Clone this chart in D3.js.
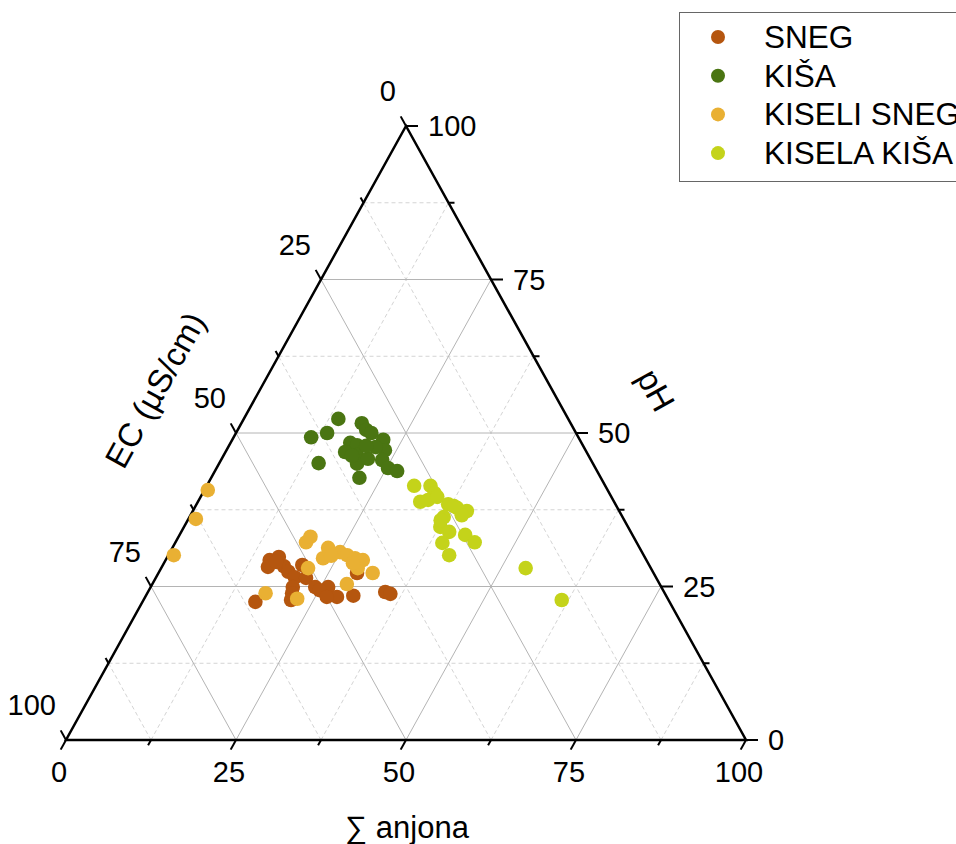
<!DOCTYPE html>
<html>
<head>
<meta charset="utf-8">
<script src="https://cdn.jsdelivr.net/npm/d3@7/dist/d3.min.js"></script>
<style>
  html, body { margin: 0; padding: 0; background: #fff; }
  svg { display: block; font-family: "Liberation Sans", Arial, sans-serif; }
</style>
</head>
<body>
<svg id="chart" width="956" height="844"></svg>
<script>
// Ternary composition of each sample: [Σ anjona, pH, EC (µS/cm)], each row sums to 100
const sneg = [
  [15.3, 29.3, 55.4], [16.4, 29.8, 53.8], [15.6, 28.2, 56.2], [17.9, 28.3, 53.8],
  [19.0, 27.4, 53.6], [20.4, 26.5, 53.1], [22.1, 26.4, 51.5], [20.9, 24.9, 54.2],
  [24.2, 24.9, 50.9], [26.1, 24.9, 49.0], [25.1, 24.4, 50.5], [21.3, 23.9, 54.8],
  [28.2, 23.3, 48.5], [26.7, 23.3, 50.0], [16.6, 22.5, 60.9], [21.7, 22.8, 55.5],
  [30.5, 23.5, 46.0], [29.2, 27.2, 43.6], [34.9, 24.1, 41.0], [35.8, 23.8, 40.4],
  [20.5, 28.5, 51.0], [16.4, 29.0, 54.6]
];
const kisa = [
  [13.9, 52.3, 33.8], [11.4, 49.3, 39.3], [13.4, 50.0, 36.6], [14.6, 45.1, 40.3],
  [17.7, 51.6, 30.7], [18.9, 50.5, 30.6], [19.9, 50.0, 30.1], [17.6, 48.4, 34.0],
  [18.8, 48.0, 33.2], [17.6, 46.9, 35.5], [19.6, 46.4, 34.0], [20.3, 45.0, 34.7],
  [21.5, 45.8, 32.7], [22.2, 48.9, 28.9], [23.3, 47.2, 29.5], [21.7, 47.7, 30.6],
  [23.7, 45.6, 30.7], [25.2, 44.3, 30.5], [26.8, 43.8, 29.4], [21.8, 42.7, 35.5],
  [20.2, 47.9, 31.9], [18.9, 46.3, 34.8]
];
const kiseliSneg = [
  [0.5, 40.7, 58.8], [1.1, 36.0, 62.9], [0.8, 30.1, 69.1], [19.2, 32.2, 48.6],
  [19.4, 33.1, 47.5], [23.0, 29.6, 47.4], [22.9, 31.3, 45.8], [25.0, 30.6, 44.4],
  [26.3, 30.1, 43.6], [27.7, 29.6, 42.7], [29.0, 29.3, 41.7], [28.9, 28.0, 43.1],
  [31.5, 27.2, 41.3], [21.6, 28.0, 50.4], [28.6, 25.4, 46.0], [17.4, 23.9, 58.7],
  [22.5, 23.0, 54.5], [27.8, 28.8, 43.4], [24.0, 30.0, 46.0]
];
const kiselaKisa = [
  [30.5, 41.4, 28.1], [32.9, 41.4, 25.7], [34.1, 40.2, 25.7], [32.7, 38.8, 28.5],
  [33.7, 39.1, 27.2], [37.0, 38.4, 24.6], [38.6, 37.8, 23.6], [40.3, 37.3, 22.4],
  [39.9, 36.6, 23.5], [37.4, 36.3, 26.3], [37.7, 34.7, 27.6], [39.4, 33.9, 26.7],
  [39.3, 32.1, 28.6], [41.3, 30.1, 28.6], [42.0, 33.4, 24.6], [44.0, 32.2, 23.8],
  [53.6, 28.0, 18.4], [61.5, 22.8, 15.7], [37.2, 35.8, 27.0], [34.8, 39.6, 25.6],
  [38.0, 38.1, 23.9]
];

const seriesNames = ["SNEG", "KIŠA", "KISELI SNEG", "KISELA KIŠA"];
const seriesColors = ["#b5560f", "#4a7512", "#e9b033", "#c4d31a"];
const seriesData = [sneg, kisa, kiseliSneg, kiselaKisa];

const tickValues = [0, 25, 50, 75, 100];
const minorValues = [12.5, 37.5, 62.5, 87.5];
const axisTitles = { bottom: "∑ anjona", right: "pH", left: "EC (µS/cm)" };

const svg = d3.select("#chart");

// Σ anjona runs along the base, pH runs up the height of the triangle
const sx = d3.scaleLinear().domain([0, 100]).range([66, 746]);
const sy = d3.scaleLinear().domain([0, 100]).range([740, 126]);

function project(a, p, e) {
  const s = a + p + e;
  const an = a / s * 100, pn = p / s * 100;
  return [sx(an + pn / 2), sy(pn)];
}

const BL = project(0, 0, 100), BR = project(100, 0, 0), T = project(0, 100, 0);

// grid lines
const grid = svg.append("g");
function gridLines(values, major) {
  values.forEach(v => {
    const segs = [
      [project(0, v, 100 - v), project(100 - v, v, 0)],   // constant pH
      [project(v, 0, 100 - v), project(v, 100 - v, 0)],   // constant anjona
      [project(100 - v, 0, v), project(0, 100 - v, v)]    // constant EC
    ];
    segs.forEach(([p1, p2]) => {
      grid.append("line")
        .attr("x1", p1[0]).attr("y1", p1[1])
        .attr("x2", p2[0]).attr("y2", p2[1])
        .attr("stroke", major ? "#b4b4b4" : "#d4d4d4")
        .attr("stroke-width", 1)
        .attr("stroke-dasharray", major ? null : "4,3");
    });
  });
}
gridLines(minorValues, false);
gridLines([25, 50, 75], true);

// triangle frame
svg.append("path")
  .attr("d", d3.line()([BL, BR, T, BL]) + "Z")
  .attr("fill", "none")
  .attr("stroke", "#000")
  .attr("stroke-width", 2.5)
  .attr("stroke-linejoin", "miter");

// tick directions
const lenL = Math.hypot(T[0] - BL[0], T[1] - BL[1]);
const dirBottom = [(BL[0] - T[0]) / lenL, (BL[1] - T[1]) / lenL];
const dirLeft = [(T[0] - BR[0]) / lenL, (T[1] - BR[1]) / lenL];
const dirRight = [1, 0];

const ticks = svg.append("g").attr("stroke", "#000").attr("stroke-width", 2);
function drawTick(pt, dir, len) {
  ticks.append("line")
    .attr("x1", pt[0]).attr("y1", pt[1])
    .attr("x2", pt[0] + dir[0] * len).attr("y2", pt[1] + dir[1] * len);
}
tickValues.forEach(v => {
  drawTick(project(v, 0, 100 - v), dirBottom, 11);
  drawTick(project(100 - v, v, 0), dirRight, 12);
  drawTick(project(0, 100 - v, v), dirLeft, 11);
});
minorValues.forEach(v => {
  drawTick(project(v, 0, 100 - v), dirBottom, 6);
  drawTick(project(100 - v, v, 0), dirRight, 6);
  drawTick(project(0, 100 - v, v), dirLeft, 6);
});

// tick labels
const labels = svg.append("g").attr("font-size", 29).attr("fill", "#000");
tickValues.forEach(v => {
  const pb = project(v, 0, 100 - v);
  labels.append("text").attr("x", pb[0] - 7).attr("y", 782)
    .attr("text-anchor", "middle").text(v);
  const pr = project(100 - v, v, 0);
  labels.append("text").attr("x", pr[0] + 22).attr("y", pr[1] + 10)
    .attr("text-anchor", "start").text(v);
  const pl = project(0, 100 - v, v);
  labels.append("text").attr("x", pl[0] - 10).attr("y", pl[1] - 25)
    .attr("text-anchor", "end").text(v);
});

// axis titles
const angle = Math.atan2(BR[1] - T[1], BR[0] - T[0]) * 180 / Math.PI;
svg.append("text").attr("x", 407).attr("y", 838)
  .attr("text-anchor", "middle").attr("font-size", 31).text(axisTitles.bottom);
svg.append("text")
  .attr("transform", `translate(656,390) rotate(${angle})`)
  .attr("text-anchor", "middle").attr("font-size", 33).attr("dy", "0.35em")
  .text(axisTitles.right);
svg.append("text")
  .attr("transform", `translate(155,390) rotate(${-angle})`)
  .attr("text-anchor", "middle").attr("font-size", 33).attr("dy", "0.35em")
  .text(axisTitles.left);

// sample points
seriesData.forEach((rows, i) => {
  svg.append("g").selectAll("circle").data(rows).join("circle")
    .attr("cx", d => project(d[0], d[1], d[2])[0])
    .attr("cy", d => project(d[0], d[1], d[2])[1])
    .attr("r", 7.3)
    .attr("fill", seriesColors[i]);
});

// legend
const legend = svg.append("g");
legend.append("rect")
  .attr("x", 679.5).attr("y", 12.5).attr("width", 300).attr("height", 169)
  .attr("fill", "#fff").attr("stroke", "#666").attr("stroke-width", 1);
seriesNames.forEach((name, i) => {
  const y = 37 + i * 38.7;
  legend.append("circle").attr("cx", 718).attr("cy", y).attr("r", 7)
    .attr("fill", seriesColors[i]);
  legend.append("text").attr("x", 764).attr("y", y + 11)
    .attr("font-size", 31.5).attr("fill", "#000").text(name);
});
</script>
</body>
</html>
